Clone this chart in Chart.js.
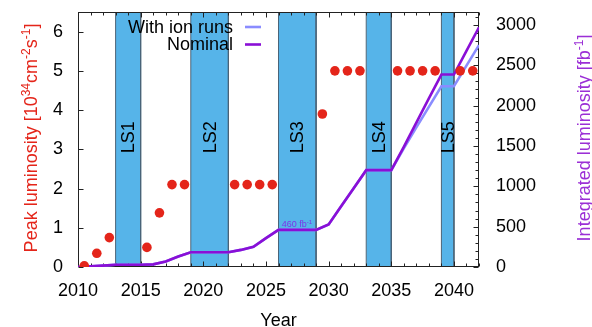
<!DOCTYPE html>
<html>
<head>
<meta charset="utf-8">
<script src="https://cdn.jsdelivr.net/npm/chart.js@4/dist/chart.umd.min.js"></script>
<style>
  html, body { margin: 0; padding: 0; background: #fff; }
  #wrap { width: 592px; height: 327px; }
</style>
</head>
<body>
<div id="wrap"><canvas id="c" width="592" height="327"></canvas></div>
<script>
// Peak instantaneous luminosity per year (10^34 cm^-2 s^-1)
const peakYears = [2010.5, 2011.5, 2012.5, 2015.5, 2016.5, 2017.5, 2018.5,
                   2022.5, 2023.5, 2024.5, 2025.5, 2029.5, 2030.5, 2031.5, 2032.5,
                   2035.5, 2036.5, 2037.5, 2038.5, 2040.5, 2041.5];
const peakLumi  = [0.03, 0.35, 0.75, 0.5, 1.38, 2.1, 2.1,
                   2.1, 2.1, 2.1, 2.1, 3.9, 5.0, 5.0, 5.0,
                   5.0, 5.0, 5.0, 5.0, 5.0, 5.0];

// Integrated luminosity (fb^-1)
const intYears   = [2010, 2011, 2012, 2013, 2015, 2016, 2017, 2018, 2019, 2022,
                    2023, 2024, 2025, 2026, 2029, 2030, 2031, 2032, 2033, 2035,
                    2036, 2037, 2038, 2039, 2040, 2041, 2042];
const intNominal = [0, 8, 17, 28, 28, 33, 68, 129, 182, 182,
                    212, 250, 358, 460, 460, 528, 752, 976, 1200, 1200,
                    1490, 1790, 2090, 2385, 2385, 2678, 2970];
const intIonRuns = [0, 8, 17, 28, 28, 33, 68, 129, 182, 182,
                    212, 250, 358, 460, 460, 528, 752, 976, 1200, 1200,
                    1470, 1730, 1985, 2240, 2240, 2495, 2750];

// Long shutdowns
const shutdownNames = ['LS1', 'LS2', 'LS3', 'LS4', 'LS5'];
const shutdownStart = [2013, 2019, 2026, 2033, 2039];
const shutdownEnd   = [2015, 2022, 2029, 2035, 2040];

// Axis ticks
const yearTicks  = [2010, 2015, 2020, 2025, 2030, 2035, 2040];
const peakTicks  = [0, 1, 2, 3, 4, 5, 6];
const intTicks   = [0, 500, 1000, 1500, 2000, 2500, 3000];

const YEAR_MIN = 2010, YEAR_MAX = 2042;
const PEAK_MAX = 6.5, INT_MAX = 3160;

const FONT = '"Liberation Sans", Arial, Helvetica, sans-serif';
Chart.defaults.font.family = FONT;
Chart.defaults.font.size = 18;
Chart.defaults.color = '#000';

const C_BAND = '#56b4e9';
const C_BAND_EDGE = '#4a6478';
const C_NOMINAL = '#8a0fd6';
const C_ION = '#8a8cff';
const C_PEAK = '#e4251a';
const C_TITLE_R = '#9b2fd6';
const C_FRAME = '#222';

const bandSets = shutdownNames.map((name, i) => ({
  type: 'line',
  label: name,
  data: [
    { x: shutdownStart[i], y: 0 }, { x: shutdownStart[i], y: PEAK_MAX },
    { x: shutdownEnd[i], y: PEAK_MAX }, { x: shutdownEnd[i], y: 0 }
  ],
  yAxisID: 'y',
  fill: 'origin',
  backgroundColor: C_BAND,
  borderColor: C_BAND_EDGE,
  borderWidth: 1,
  pointRadius: 0,
  tension: 0,
  order: 10
}));

const ionSet = {
  type: 'line',
  label: 'With ion runs',
  data: intYears.map((x, i) => ({ x, y: intIonRuns[i] })),
  yAxisID: 'y2',
  borderColor: C_ION,
  borderWidth: 2.6,
  pointRadius: 0,
  fill: false,
  tension: 0,
  order: 3
};
const nominalSet = {
  type: 'line',
  label: 'Nominal',
  data: intYears.map((x, i) => ({ x, y: intNominal[i] })),
  yAxisID: 'y2',
  borderColor: C_NOMINAL,
  borderWidth: 2.6,
  pointRadius: 0,
  fill: false,
  tension: 0,
  order: 2
};
const peakSet = {
  type: 'line',
  label: 'Peak luminosity',
  data: peakYears.map((x, i) => ({ x, y: peakLumi[i] })),
  yAxisID: 'y',
  showLine: false,
  pointRadius: 4.8,
  pointHoverRadius: 4.8,
  pointBackgroundColor: C_PEAK,
  pointBorderWidth: 0,
  order: 1
};

// Draw a string made of normal and superscript runs, centred on (0,0) along the baseline
function drawRich(ctx, parts, size, color) {
  const supSize = Math.round(size * 0.68);
  let total = 0;
  const widths = parts.map(p => {
    ctx.font = (p.sup ? supSize : size) + 'px ' + FONT;
    const w = ctx.measureText(p.t).width;
    total += w;
    return w;
  });
  let x = -total / 2;
  ctx.fillStyle = color;
  ctx.textBaseline = 'alphabetic';
  ctx.textAlign = 'left';
  parts.forEach((p, i) => {
    ctx.font = (p.sup ? supSize : size) + 'px ' + FONT;
    ctx.fillText(p.t, x, p.sup ? -size * 0.4 : 0);
    x += widths[i];
  });
}

const decorations = {
  id: 'decorations',
  afterDatasetDraw(chart, args) {
    if (args.index !== 0) return; // last shutdown band drawn: frame, ticks and band labels go here
    const ctx = chart.ctx;
    const a = chart.chartArea;
    const sx = chart.scales.x, sy = chart.scales.y, sy2 = chart.scales.y2;
    ctx.save();
    // shutdown labels
    ctx.fillStyle = '#000';
    ctx.font = '18px ' + FONT;
    ctx.textAlign = 'center';
    ctx.textBaseline = 'middle';
    shutdownNames.forEach((n, i) => {
      const cx = sx.getPixelForValue((shutdownStart[i] + shutdownEnd[i]) / 2);
      const cy = sy.getPixelForValue(3.31);
      ctx.save();
      ctx.translate(cx, cy);
      ctx.rotate(-Math.PI / 2);
      ctx.fillText(n, 0, 1);
      ctx.restore();
    });
    // frame
    const L = Math.round(a.left) + 0.5, R = Math.round(a.right) - 0.5;
    const T = Math.round(a.top) + 0.5, B = Math.round(a.bottom) - 0.5;
    ctx.strokeStyle = C_FRAME;
    ctx.lineWidth = 1;
    ctx.strokeRect(L, T, R - L, B - T);
    ctx.beginPath();
    // year ticks, bottom and top, inward
    for (let yr = YEAR_MIN; yr <= YEAR_MAX; yr++) {
      const px = Math.round(sx.getPixelForValue(yr)) + 0.5;
      const len = yr % 5 === 0 ? 5 : 3;
      ctx.moveTo(px, B); ctx.lineTo(px, B - len);
      ctx.moveTo(px, T); ctx.lineTo(px, T + len);
    }
    // peak luminosity ticks on the left
    peakTicks.forEach(v => {
      const py = Math.round(sy.getPixelForValue(v)) + 0.5;
      ctx.moveTo(L, py); ctx.lineTo(L + 5, py);
    });
    // integrated luminosity ticks on the right
    for (let v = 0; v <= INT_MAX; v += 100) {
      const py = Math.round(sy2.getPixelForValue(v)) + 0.5;
      const len = v % 500 === 0 ? 5 : 3;
      ctx.moveTo(R, py); ctx.lineTo(R - len, py);
    }
    ctx.stroke();
    ctx.restore();
  },
  afterDraw(chart) {
    const ctx = chart.ctx;
    const sx = chart.scales.x, sy2 = chart.scales.y2;
    ctx.save();

    // legend, text right-aligned with the line sample on its right
    const items = [ionSet, nominalSet];
    const ly = [27, 44.5];
    items.forEach((ds, i) => {
      ctx.font = '18px ' + FONT;
      ctx.fillStyle = '#000';
      ctx.textAlign = 'right';
      ctx.textBaseline = 'middle';
      ctx.fillText(ds.label, 233, ly[i] + 1);
      ctx.strokeStyle = ds.borderColor;
      ctx.lineWidth = ds.borderWidth;
      ctx.beginPath();
      ctx.moveTo(245, ly[i]);
      ctx.lineTo(261, ly[i]);
      ctx.stroke();
    });

    // annotation of the integrated luminosity reached before LS3
    const k = intYears.indexOf(shutdownStart[2]);
    const ax = sx.getPixelForValue(intYears[k]) + 3;
    const ay = sy2.getPixelForValue(intNominal[k]) - 2.5;
    ctx.save();
    ctx.translate(ax, ay);
    ctx.font = '9px ' + FONT;
    const w0 = ctx.measureText(intNominal[k] + ' fb').width;
    ctx.translate(w0 / 2 + 3, 0);
    drawRich(ctx, [{ t: intNominal[k] + ' fb' }, { t: '-1', sup: true }], 9, '#7a35e8');
    ctx.restore();

    // axis titles
    const midY = (chart.chartArea.top + chart.chartArea.bottom) / 2 - 1.5;
    ctx.save();
    ctx.translate(37, midY);
    ctx.rotate(-Math.PI / 2);
    drawRich(ctx, [
      { t: 'Peak luminosity [10' }, { t: '34', sup: true }, { t: 'cm' },
      { t: '-2', sup: true }, { t: 's' }, { t: '-1', sup: true }, { t: ']' }
    ], 18, C_PEAK);
    ctx.restore();

    ctx.save();
    ctx.translate(590, midY);
    ctx.rotate(-Math.PI / 2);
    drawRich(ctx, [
      { t: 'Integrated luminosity [fb' }, { t: '-1', sup: true }, { t: ']' }
    ], 18, C_TITLE_R);
    ctx.restore();

    // x title
    ctx.font = '18px ' + FONT;
    ctx.fillStyle = '#000';
    ctx.textAlign = 'center';
    ctx.textBaseline = 'alphabetic';
    ctx.fillText('Year', (chart.chartArea.left + chart.chartArea.right) / 2, 326);
    ctx.restore();
  }
};

function noPad(s) {
  s.paddingTop = 0; s.paddingBottom = 0; s.paddingLeft = 0; s.paddingRight = 0;
}

new Chart(document.getElementById('c'), {
  type: 'line',
  data: { datasets: [...bandSets, ionSet, nominalSet, peakSet] },
  options: {
    responsive: false,
    devicePixelRatio: 1,
    animation: false,
    events: [],
    layout: { padding: { top: 12, left: 0, right: 0, bottom: 0 } },
    plugins: { legend: { display: false }, tooltip: { enabled: false } },
    scales: {
      x: {
        type: 'linear', min: YEAR_MIN, max: YEAR_MAX,
        grid: { display: false, drawTicks: false },
        border: { display: false },
        ticks: { padding: 13, maxRotation: 0, autoSkip: false, callback: v => String(v) },
        afterBuildTicks: s => { s.ticks = yearTicks.map(v => ({ value: v })); },
        afterFit: s => { s.height = 60; noPad(s); }
      },
      y: {
        type: 'linear', position: 'left', min: 0, max: PEAK_MAX,
        grid: { display: false, drawTicks: false },
        border: { display: false },
        ticks: { padding: 15, callback: v => String(v) },
        afterBuildTicks: s => { s.ticks = peakTicks.map(v => ({ value: v })); },
        afterFit: s => { s.width = 78; noPad(s); }
      },
      y2: {
        type: 'linear', position: 'right', min: 0, max: INT_MAX,
        grid: { display: false, drawTicks: false },
        border: { display: false },
        ticks: { padding: 17, callback: v => String(v) },
        afterBuildTicks: s => { s.ticks = intTicks.map(v => ({ value: v })); },
        afterFit: s => { s.width = 113; noPad(s); }
      }
    }
  },
  plugins: [decorations]
});
</script>
</body>
</html>
